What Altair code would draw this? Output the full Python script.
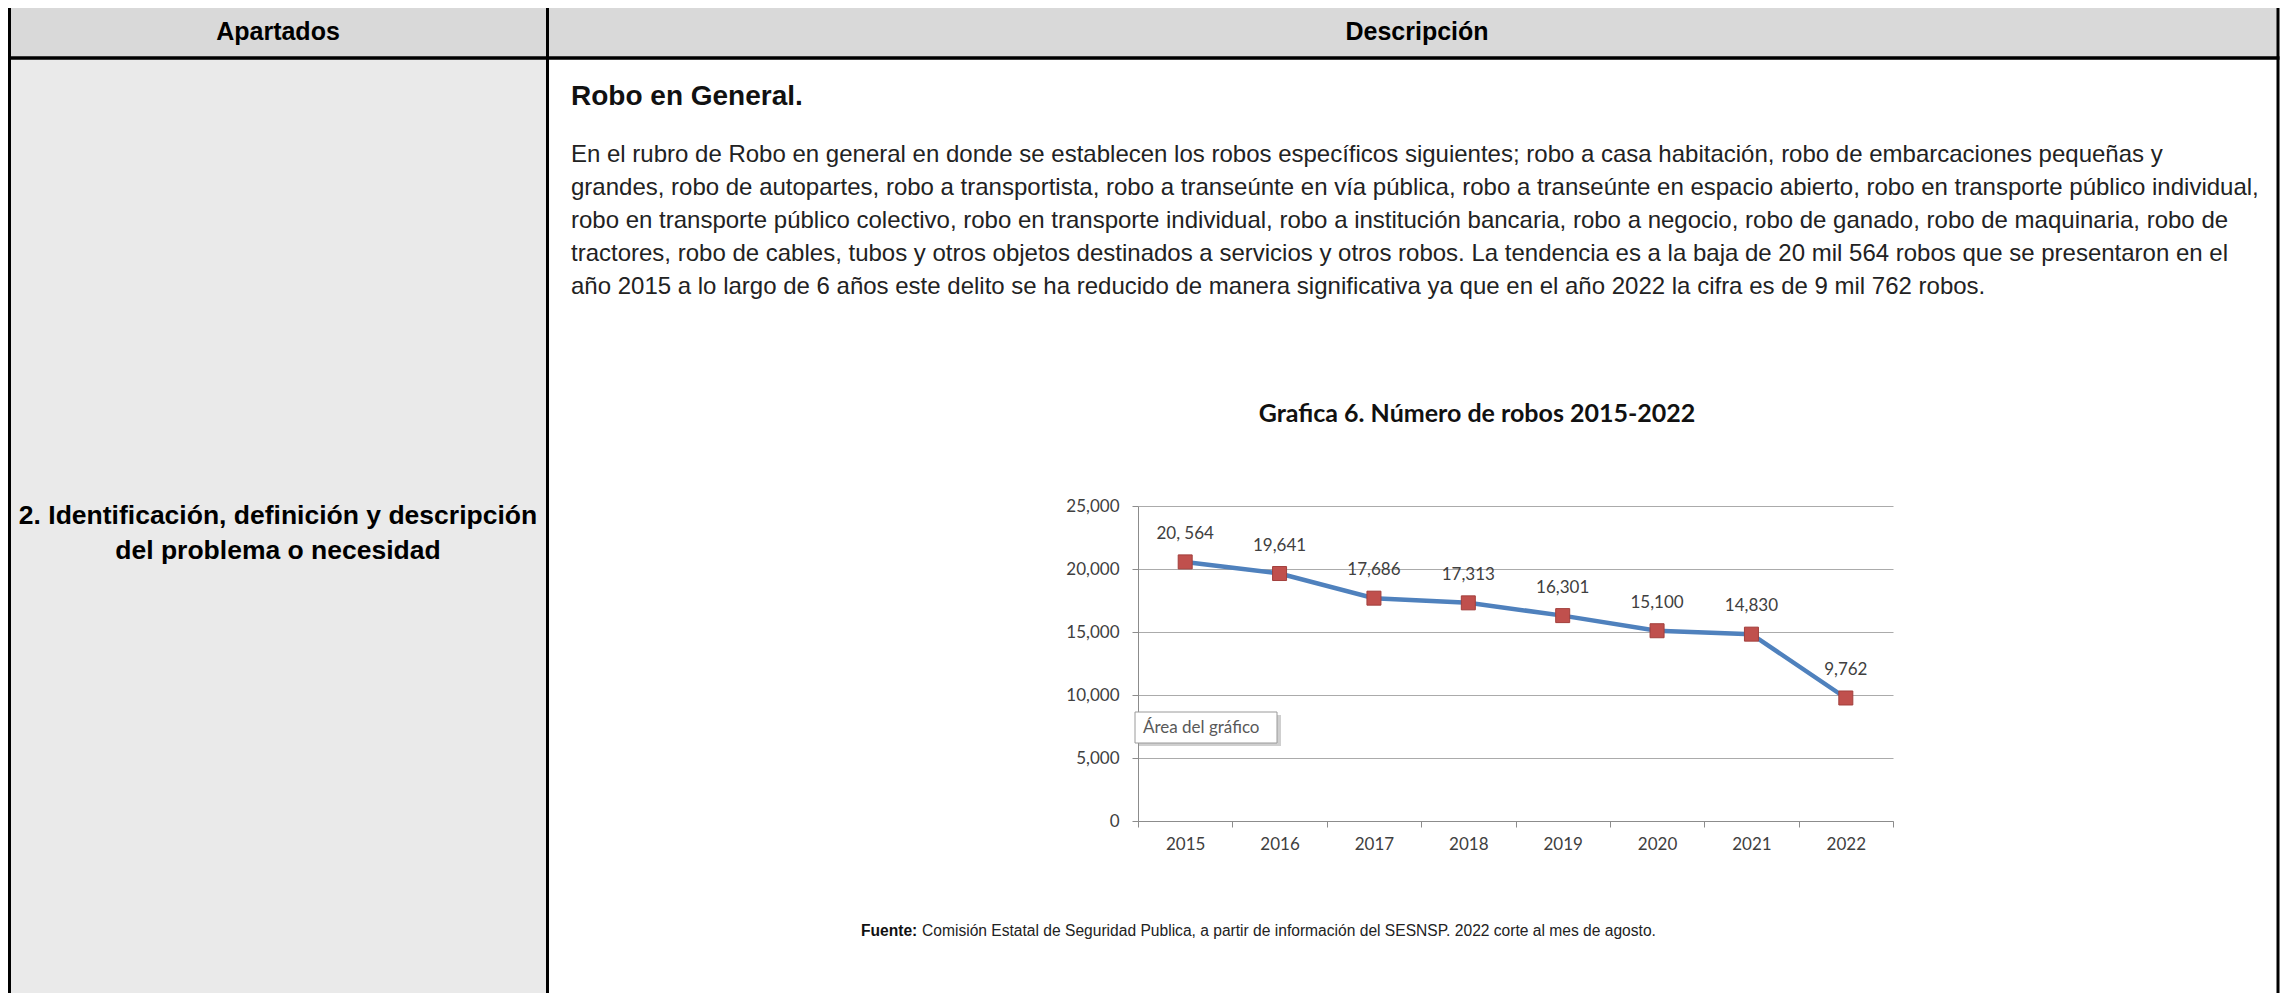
import altair as alt
import pandas as pd

# ---------------- data ----------------
years = ["2015", "2016", "2017", "2018", "2019", "2020", "2021", "2022"]
robos = [20564, 19641, 17686, 17313, 16301, 15100, 14830, 9762]
etiquetas = ["20, 564", "19,641", "17,686", "17,313", "16,301", "15,100", "14,830", "9,762"]
y_ticks = [0, 5000, 10000, 15000, 20000, 25000]

titulo_grafica = "Grafica 6. Número de robos 2015-2022"
encabezados = ["Apartados", "Descripción"]
apartado = ["2. Identificación, definición y descripción", "del problema o necesidad"]
subtitulo = "Robo en General."
parrafo = [
    "En el rubro de  Robo en general en donde se establecen los robos específicos siguientes; robo a casa habitación, robo de embarcaciones pequeñas y",
    "grandes, robo de autopartes, robo a transportista, robo a transeúnte en vía pública, robo a transeúnte en espacio abierto, robo en transporte público individual,",
    "robo en transporte público colectivo, robo en transporte individual, robo a institución bancaria, robo a negocio, robo de ganado, robo de maquinaria, robo de",
    "tractores, robo de cables, tubos y otros objetos destinados a servicios y otros robos. La  tendencia es a la baja de 20 mil 564 robos que se presentaron en el",
    "año 2015 a lo largo de 6 años este delito se ha reducido de manera significativa ya que en el año 2022 la cifra es de 9 mil 762 robos.",
]
fuente_bold = "Fuente:"
fuente_texto = "Comisión Estatal de Seguridad Publica, a partir de información del SESNSP. 2022 corte al mes de agosto."
caja_texto = "Área del gráfico"

df = pd.DataFrame({"year": years, "robos": robos, "etiqueta": etiquetas})
one = pd.DataFrame({"k": [0]})

# ---------------- layout (page pixels) ----------------
OX, OY = 1138, 506          # plot-area origin on the page
PW, PH = 755, 315           # plot-area size
TOTAL_W, TOTAL_H = 2272, 985
PAD = {"left": OX - 8, "top": OY - 8,
       "right": TOTAL_W - (OX - 8) - PW, "bottom": TOTAL_H - (OY - 8) - PH}

def X(p):
    return p - OX

def Y(p):
    return p - OY

TABLE_FONT = "Liberation Sans"
CHART_FONT = "Lato"


def txt(s, x, y, size, font=TABLE_FONT, weight="normal", align="left",
        baseline="middle", color="#000000"):
    return alt.Chart(one).mark_text(
        text=s, fontSize=size, font=font, fontWeight=weight, align=align,
        baseline=baseline, color=color
    ).encode(x=alt.value(X(x)), y=alt.value(Y(y)))


def box(x1, y1, x2, y2, fill, stroke=None, sw=0):
    kw = dict(color=fill)
    if stroke:
        kw.update(stroke=stroke, strokeWidth=sw)
    return alt.Chart(one).mark_rect(**kw).encode(
        x=alt.value(X(x1)), x2=alt.value(X(x2)),
        y=alt.value(Y(y1)), y2=alt.value(Y(y2)))


def hline(x1, x2, y, w, color="#000000"):
    return alt.Chart(one).mark_rule(color=color, strokeWidth=w).encode(
        x=alt.value(X(x1)), x2=alt.value(X(x2)), y=alt.value(Y(y)))


def vline(x, y1, y2, w, color="#000000"):
    return alt.Chart(one).mark_rule(color=color, strokeWidth=w).encode(
        x=alt.value(X(x)), y=alt.value(Y(y1)), y2=alt.value(Y(y2)))


LEFT, DIV, RIGHT = 9.5, 547.5, 2278
TOP, HEAD_BOT, BOTTOM = 6, 58, 993

deco = [
    box(LEFT, TOP, RIGHT, HEAD_BOT, "#d9d9d9"),
    box(LEFT, HEAD_BOT, DIV, BOTTOM, "#eaeaea"),
    hline(LEFT - 1.5, RIGHT + 1.5, TOP, 3),
    hline(LEFT - 1.5, RIGHT + 1.5, HEAD_BOT, 3.5),
    vline(LEFT, TOP, BOTTOM, 3),
    vline(DIV, TOP, BOTTOM, 3),
    vline(RIGHT, TOP, BOTTOM, 3),
    txt(encabezados[0], 278, 32, 25, weight="bold", align="center"),
    txt(encabezados[1], 1417, 32, 25, weight="bold", align="center"),
    txt(apartado[0], 278, 516, 26.5, weight="bold", align="center"),
    txt(apartado[1], 278, 551, 26.5, weight="bold", align="center"),
    txt(subtitulo, 571, 105, 28, weight="bold", baseline="alphabetic", color="#111111"),
]
for i, line in enumerate(parrafo):
    deco.append(txt(line, 571, 162 + 33 * i, 24, baseline="alphabetic", color="#222222"))

deco += [
    txt(titulo_grafica, 1477, 414, 25, font=CHART_FONT, weight="bold", align="center", color="#111111"),
    txt(fuente_bold, 861, 931, 15.6, weight="bold", color="#111111"),
    txt(fuente_texto, 922, 931, 15.6, color="#222222"),
]

# ---------------- data chart ----------------
base = alt.Chart(df).encode(
    x=alt.X("year:N", sort=years, bandPosition=0.5,
            scale=alt.Scale(type="band", paddingInner=0, paddingOuter=0),
            axis=alt.Axis(title=None, tickBand="extent", tickSize=6, labelPadding=9,
                          labelFont=CHART_FONT, labelFontSize=17, labelColor="#404040",
                          domainColor="#8c8c8c", tickColor="#8c8c8c", labelAngle=0,
                          grid=False)),
    y=alt.Y("robos:Q", scale=alt.Scale(domain=[0, 25000], nice=False),
            axis=alt.Axis(title=None, values=y_ticks, format=",d", tickSize=6,
                          labelPadding=13, labelFont=CHART_FONT, labelFontSize=17,
                          labelColor="#404040", domainColor="#8c8c8c",
                          tickColor="#8c8c8c", gridColor="#ababab", grid=True)),
)

linea = base.mark_line(color="#4f81bd", strokeWidth=4.5)
puntos = base.mark_square(size=196, color="#c0504d", opacity=1, stroke="#a23f3c", strokeWidth=1)
rotulos = base.mark_text(dy=-28, font=CHART_FONT, fontSize=17, color="#404040").encode(
    text="etiqueta:N")

caja = [
    box(1139, 715, 1281, 746, "#cfcfcf"),
    box(1135, 712, 1277, 743, "#ffffff", stroke="#9a9a9a", sw=1),
    txt(caja_texto, 1143, 728, 17, font=CHART_FONT, color="#595959"),
]

chart = alt.layer(*deco, linea, puntos, rotulos, *caja).properties(
    width=PW, height=PH, padding=PAD,
    autosize=alt.AutoSizeParams(type="none"),
    background="#ffffff",
).configure_view(stroke=None)

chart.save("out.html", embed_options={"renderer": "svg", "actions": False})
